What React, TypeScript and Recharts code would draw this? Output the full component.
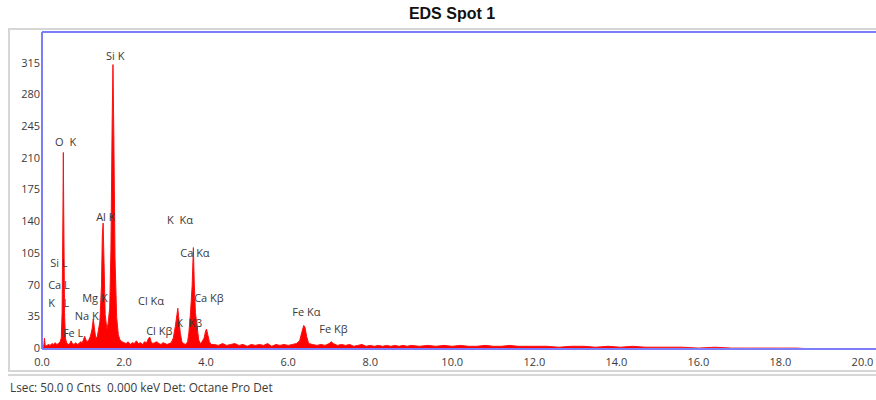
import React from "react";
import { AreaChart, Area, XAxis, YAxis, ReferenceDot, ReferenceLine } from "recharts";

// Spectrum: energy (keV) and counts
const energyKeV = [
  0.0, 0.04, 0.06, 0.08, 0.12, 0.16, 0.2, 0.24, 0.28, 0.32, 0.36, 0.4, 0.44, 0.47, 0.49, 0.51, 0.52, 0.53, 0.55, 0.57,
  0.6, 0.64, 0.68, 0.71, 0.74, 0.78, 0.82, 0.86, 0.9, 0.94, 0.98, 1.01, 1.04, 1.07, 1.1, 1.14, 1.18, 1.22, 1.25, 1.28,
  1.31, 1.35, 1.41, 1.45, 1.47, 1.49, 1.51, 1.54, 1.58, 1.61, 1.65, 1.68, 1.71, 1.73, 1.75, 1.78, 1.82, 1.86, 1.9, 1.95,
  2.0, 2.05, 2.1, 2.15, 2.2, 2.25, 2.3, 2.35, 2.4, 2.45, 2.5, 2.55, 2.6, 2.63, 2.66, 2.7, 2.75, 2.8, 2.85, 2.9,
  2.95, 3.0, 3.05, 3.1, 3.15, 3.2, 3.25, 3.29, 3.31, 3.33, 3.37, 3.41, 3.45, 3.5, 3.55, 3.58, 3.62, 3.66, 3.69, 3.71,
  3.74, 3.78, 3.82, 3.86, 3.9, 3.95, 3.99, 4.01, 4.04, 4.08, 4.12, 4.2, 4.3, 4.4, 4.5, 4.6, 4.7, 4.8, 4.9, 5.0,
  5.1, 5.2, 5.3, 5.4, 5.5, 5.6, 5.7, 5.8, 5.9, 6.0, 6.1, 6.2, 6.28, 6.33, 6.38, 6.41, 6.45, 6.5, 6.6, 6.7,
  6.8, 6.9, 7.0, 7.05, 7.1, 7.2, 7.3, 7.4, 7.5, 7.6, 7.7, 7.8, 7.9, 8.0, 8.1, 8.2, 8.3, 8.4, 8.5, 8.6,
  8.7, 8.8, 8.9, 9.0, 9.2, 9.4, 9.6, 9.8, 10.0, 10.2, 10.4, 10.6, 10.8, 11.0, 11.2, 11.4, 11.6, 11.8, 12.0, 12.3,
  12.6, 12.9, 13.2, 13.5, 13.8, 14.1, 14.4, 14.7, 15.0, 15.3, 15.6, 16.0, 16.4, 16.8, 17.2, 17.6, 18.0, 18.4, 18.8, 20.5,
];
const counts = [
  0, 2, 12, 3, 4, 5, 4, 6, 5, 7, 5, 6, 8, 12, 40, 150, 217, 150, 40, 12,
  7, 5, 6, 9, 6, 5, 7, 5, 6, 8, 7, 10, 14, 10, 8, 10, 14, 22, 33, 22,
  12, 14, 30, 70, 125, 139, 100, 38, 22, 28, 45, 110, 250, 314, 240, 100, 35, 16, 10, 8,
  7, 6, 8, 5, 7, 6, 9, 6, 7, 5, 8, 7, 12, 13, 8, 6, 7, 8, 6, 5,
  7, 6, 5, 6, 7, 12, 25, 38, 45, 36, 18, 8, 6, 5, 8, 18, 40, 70, 112, 75,
  40, 25, 10, 6, 8, 12, 20, 22, 16, 8, 5, 5, 4, 6, 4, 5, 6, 4, 5, 3,
  5, 4, 5, 4, 6, 3, 5, 4, 5, 4, 5, 6, 9, 18, 26, 24, 14, 6, 5, 4,
  5, 4, 6, 8, 6, 4, 5, 4, 5, 3, 4, 5, 3, 4, 3, 4, 3, 4, 3, 4,
  3, 4, 3, 4, 3, 4, 3, 4, 3, 4, 3, 3, 4, 3, 3, 4, 3, 3, 3, 3,
  2, 3, 3, 2, 3, 2, 3, 2, 2, 2, 2, 1, 2, 1, 1, 1, 1, 1, 0, 0,
];

const yTicks = [0, 35, 70, 105, 140, 175, 210, 245, 280, 315];
const xTicks = [0, 2, 4, 6, 8, 10, 12, 14, 16, 18, 20];
const yMax = 350;

// Peak labels: text, energy at the label's left edge, count at label middle
const labelText = [
  "Si K", "O  K", "Al K", "K  K\u03b1", "Si L", "Ca L", "K   L", "Mg K", "Na K", "Fe L",
  "Cl K\u03b1", "Cl K\u03b2", "K  K\u03b2", "Ca K\u03b1", "Ca K\u03b2", "Fe K\u03b1", "Fe K\u03b2",
];
const labelEnergy = [1.56, 0.32, 1.32, 3.05, 0.2, 0.15, 0.15, 0.98, 0.8, 0.51, 2.34, 2.54, 3.27, 3.37, 3.71, 6.1, 6.76];
const labelCount = [323, 228, 146, 142, 95, 70, 51, 56, 36, 18, 53, 20, 29, 106, 56, 41, 22];

const data = energyKeV.map((e, i) => ({ e, c: counts[i] }));
const labels = labelText.map((t, i) => ({ t, e: labelEnergy[i], c: labelCount[i] }));

const FONT = "'Open Sans', 'DejaVu Sans', sans-serif";
const BLUE = "#7d7dfa";
const TXT = "#3a3a3a";

export default function App() {
  return (
    <div style={{ position: "fixed", left: 0, top: 0, width: 876, height: 400, overflow: "hidden", background: "#fff", fontFamily: FONT }}>
      <div style={{ position: "absolute", left: 352, top: 4, width: 200, textAlign: "center", fontFamily: "'Liberation Sans', Arial, sans-serif", fontWeight: "bold", fontSize: 16, lineHeight: "20px", color: "#111" }}>
        EDS Spot 1
      </div>
      <div style={{ position: "absolute", left: 8, top: 28, width: 1000, height: 344, border: "2px solid #d6d6d6", boxSizing: "border-box" }} />
      <div style={{ position: "absolute", left: 8, top: 374, width: 1000, height: 0, borderTop: "2px solid #d6d6d6" }} />
      <div style={{ position: "absolute", left: 10, top: 380, fontSize: 11.8, lineHeight: "15px", color: TXT, whiteSpace: "pre" }}>
        {"Lsec: 50.0 0 Cnts  0.000 keV Det: Octane Pro Det"}
      </div>
      <div style={{ position: "absolute", left: 0, top: 0 }}>
        <AreaChart width={883} height={400} data={data} margin={{ top: 32, right: 0, bottom: 27, left: 0 }}>
          <XAxis
            type="number"
            dataKey="e"
            domain={[0, 20.5]}
            ticks={xTicks}
            tickFormatter={(v: number) => v.toFixed(1)}
            height={24}
            tickSize={0}
            tickMargin={9}
            tick={{ fontSize: 11, fill: TXT, fontFamily: FONT }}
            axisLine={{ stroke: BLUE, strokeWidth: 2 }}
            allowDataOverflow
          />
          <YAxis
            type="number"
            domain={[0, yMax]}
            ticks={yTicks}
            width={42}
            tickSize={0}
            tickMargin={2}
            tick={{ fontSize: 11, fill: TXT, fontFamily: FONT, dy: -1 }}
            axisLine={{ stroke: BLUE, strokeWidth: 2 }}
            allowDataOverflow
          />
          <ReferenceLine y={yMax} stroke={BLUE} strokeWidth={2} ifOverflow="visible" />
          <Area
            type="linear"
            dataKey="c"
            stroke="#ff1010"
            strokeWidth={1}
            fill="#ff0000"
            fillOpacity={1}
            isAnimationActive={false}
            dot={false}
            activeDot={false}
          />
          {labels.map((l, i) => (
            <ReferenceDot
              key={i}
              x={l.e}
              y={l.c}
              r={0.01}
              fill="none"
              stroke="none"
              ifOverflow="visible"
              label={(p: any) => (
                <text
                  x={p.viewBox.x}
                  y={p.viewBox.y}
                  dy="0.35em"
                  fontSize={11}
                  fill={TXT}
                  fontFamily={FONT}
                  style={{ whiteSpace: "pre" }}
                >
                  {l.t}
                </text>
              )}
            />
          ))}
        </AreaChart>
      </div>
    </div>
  );
}
